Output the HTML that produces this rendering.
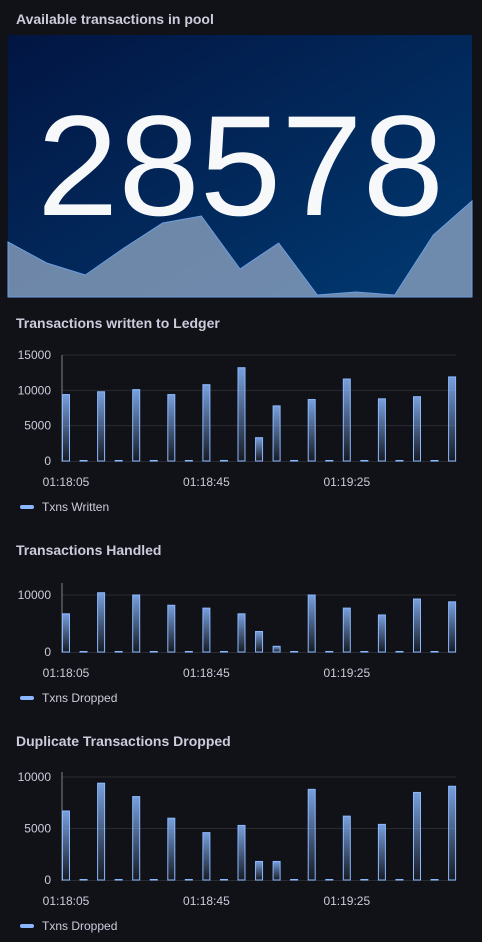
<!DOCTYPE html>
<html><head><meta charset="utf-8"><style>
body{margin:0;width:482px;height:942px;background:#111217;font-family:"Liberation Sans",sans-serif;overflow:hidden}
svg{display:block}
</style></head><body>
<svg width="482" height="942" id="dash">
<defs>
<linearGradient id="statbg" x1="0" y1="0" x2="1" y2="1">
<stop offset="0" stop-color="#021542"/><stop offset="1" stop-color="#013a72"/></linearGradient>
<linearGradient id="barg" x1="0" y1="0" x2="0" y2="1">
<stop offset="0" stop-color="#8ab8ff" stop-opacity="0.85"/><stop offset="1" stop-color="#8ab8ff" stop-opacity="0.05"/></linearGradient>
</defs>
<text x="16" y="24" fill="#ccccdc" font-size="14" font-weight="bold">Available transactions in pool</text>
<rect x="8" y="35" width="464" height="262" fill="url(#statbg)"/>
<path id="spark" fill="#8aa0bd" fill-opacity="0.8" stroke="#6d9ee0" stroke-width="1"/>
<text x="37" y="215" textLength="407" lengthAdjust="spacingAndGlyphs" fill="#f7f8fa" font-size="143">28578</text>
</svg>
<script>
const sparkValues=[55,34,22,49,74,81,28,54,2,5,2,62,96];
const c1Values=[9400,0,9800,0,10100,0,9400,0,10800,0,13200,3300,7800,0,8700,0,11600,0,8800,0,9100,0,11900];
const c2Values=[6700,0,10400,0,10000,0,8200,0,7700,0,6700,3600,1000,0,10000,0,7700,0,6500,0,9300,0,8800];
const c3Values=[6700,0,9400,0,8100,0,6000,0,4600,0,5300,1800,1800,0,8800,0,6200,0,5400,0,8500,0,9100];
const c1Ticks=[0,5000,10000,15000];
const c2Ticks=[0,10000];
const c3Ticks=[0,5000,10000];
const xLabels=["01:18:05","01:18:45","01:19:25"];
const xLabelIdx=[0,8,16];
const NS="http://www.w3.org/2000/svg";
const svg=document.getElementById('dash');
function mk(t,a,p){const e=document.createElementNS(NS,t);for(const k in a)e.setAttribute(k,a[k]);(p||svg).appendChild(e);return e;}
(function(){const n=sparkValues.length,x0=8,x1=472,yb=297,yt=197;
let d=`M${x0},${yb}`;sparkValues.forEach((v,i)=>{const x=x0+(x1-x0)*i/(n-1),y=yb-(yb-yt)*v/100;d+=` L${x},${y}`;});
d+=` L${x1},${yb} Z`;document.getElementById('spark').setAttribute('d',d);})();
function chart(o){
  const g=mk('g',{});
  
  
  const t=mk('text',{x:16,y:o.titleY,fill:'#ccccdc','font-size':14,'font-weight':'bold'},g);t.textContent=o.title;
  
  
  const px0=62,px1=456;
  const y=v=>o.y0-(o.y0-o.yRef)*v/o.ref;
  const x=i=>66+i*17.55;
  o.ticks.forEach(v=>{
    if(v>0){const l=mk('line',{x1:px0,x2:px1,y1:y(v),y2:y(v),stroke:'#2a2b31'},g);
    
    }
    const tx=mk('text',{x:51,y:y(v)+4,'text-anchor':'end',fill:'#ccccdc','font-size':12},g);tx.textContent=v;
    
    
  });
  const ax=mk('line',{x1:px0,x2:px0,y1:o.top,y2:o.y0+1,stroke:'#ccccdc','stroke-opacity':0.6},g);
  
  
  const bl=mk('line',{x1:px0,x2:px1,y1:o.y0+0.5,y2:o.y0+0.5,stroke:'#2a2b31'},g);
  
  
  o.values.forEach((v,i)=>{
    const h=Math.max(o.y0-y(v),0.5);
    const r=mk('rect',{x:x(i)-3.5,y:o.y0-h,width:7,height:h,fill:'url(#barg)',stroke:'#8ab8ff','stroke-width':1},g);
    
    
  });
  xLabels.forEach((s,k)=>{
    const tx=mk('text',{x:x(xLabelIdx[k]),y:o.y0+25,'text-anchor':'middle',fill:'#ccccdc','font-size':12},g);tx.textContent=s;
    
    
  });
  const lg=mk('rect',{x:20,y:o.y0+44,width:14,height:4,rx:2,fill:'#8ab8ff'},g);
  
  
  const lt=mk('text',{x:42,y:o.y0+50,fill:'#ccccdc','font-size':12},g);lt.textContent=o.legend;
  
  
}
chart({name:'ledger-chart',title:'Transactions written to Ledger',titleY:328,values:c1Values,ticks:c1Ticks,y0:461,yRef:355,ref:15000,top:355,legend:'Txns Written'});
chart({name:'handled-chart',title:'Transactions Handled',titleY:555,values:c2Values,ticks:c2Ticks,y0:652,yRef:595,ref:10000,top:583,legend:'Txns Dropped'});
chart({name:'duplicates-chart',title:'Duplicate Transactions Dropped',titleY:746,values:c3Values,ticks:c3Ticks,y0:880,yRef:777,ref:10000,top:772,legend:'Txns Dropped'});
</script>
</body></html>
